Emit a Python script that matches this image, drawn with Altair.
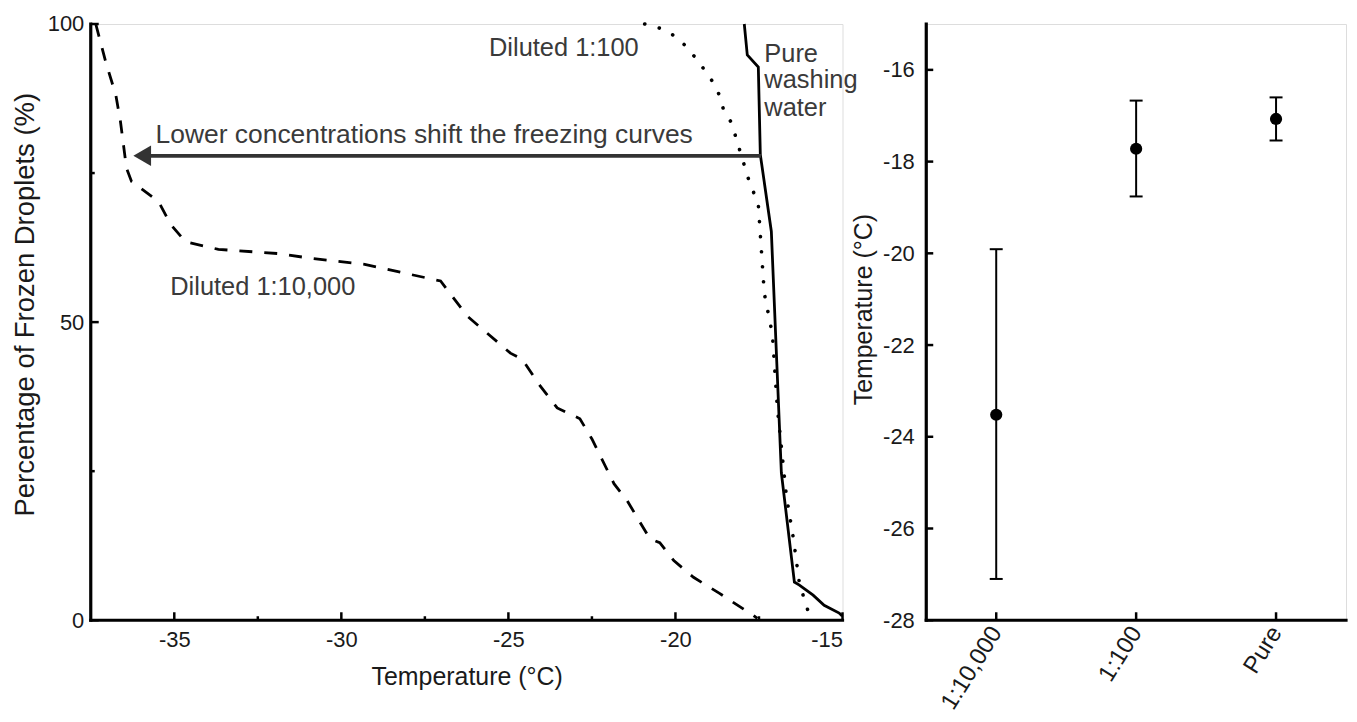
import altair as alt
import pandas as pd

FONT = "Liberation Sans"

# ---------------- Left panel: freezing curves ----------------
dil10000_temp = [-37.35, -37.05, -36.75, -36.61, -36.43, -36.28, -35.47, -35.11, -34.67,
                 -33.68, -31.89, -30.91, -29.30, -27.93, -27.03, -26.23, -24.94, -24.59,
                 -24.05, -23.54, -22.86, -22.50, -21.84, -21.45, -20.77, -20.47, -20.05,
                 -19.46, -18.68, -17.67, -17.55]
dil10000_pct = [100, 93.6, 88.1, 83.6, 75.8, 73.6, 70.2, 66.4, 63.5,
                62.2, 61.5, 60.7, 59.7, 58.0, 56.9, 51.0, 44.8, 43.8,
                39.3, 35.6, 33.8, 30.4, 22.9, 20.1, 13.7, 13.0, 10.0,
                7.2, 4.5, 0.8, 0.3]

dil100_temp = [-20.92, -20.47, -20.02, -19.67, -19.37, -19.13, -18.86, -18.68, -18.56,
               -18.32, -18.08, -17.82, -17.52, -17.43, -17.34, -17.10, -16.95, -16.68,
               -16.47, -16.29, -16.03]
dil100_pct = [100, 99.3, 98.0, 96.2, 94.1, 92.3, 90.1, 88.0, 85.6,
              83.4, 78.9, 74.1, 69.7, 62.2, 54.8, 48.0, 35.6, 20.9,
              13.7, 6.2, 1.5]

pure_temp = [-17.94, -17.85, -17.52, -17.46, -17.13, -16.83, -16.44, -16.29,
             -15.88, -15.55, -15.10, -15.01]
pure_pct = [100, 94.8, 92.8, 78.1, 65.2, 24.7, 6.4, 5.9,
            4.2, 2.5, 1.2, 0.7]

left_x_major = [-35, -30, -25, -20, -15]
left_x_minor = [-32.5, -27.5, -22.5, -17.5]
left_y_major = [0, 50, 100]
left_y_minor = [25, 75]

ann_text = ["Diluted 1:100", "Diluted 1:10,000", "Pure", "washing", "water"]
ann_temp = [-25.58, -35.12, -17.34, -17.34, -17.34]
ann_pct = [94.6, 54.5, 93.6, 89.2, 84.5]

arrow_label = ["Lower concentrations shift the freezing curves"]
arrow_label_temp = [-35.56]
arrow_label_pct = [80.1]
arrow_from = [-17.44]
arrow_to = [-35.96]
arrow_pct = [77.9]

# ---------------- Right panel: mean freezing temperature ----------------
cats = ["1:10,000", "1:100", "Pure"]
mean_t = [-23.52, -17.72, -17.07]
upper_t = [-19.91, -16.67, -16.60]
lower_t = [-27.10, -18.76, -17.54]
right_y_ticks = [-16, -18, -20, -22, -24, -26, -28]

W1, H = 754, 598
W2 = 421

xs = alt.Scale(domain=[-37.5, -15], nice=False, zero=False)
ys = alt.Scale(domain=[0, 100], nice=False, zero=False)

HYPHEN = "replace(datum.label, '\u2212', '-')"

x_axis = alt.Axis(values=left_x_major, labelExpr=HYPHEN, labelPadding=9,
                  title="Temperature (°C)", titleFontSize=25, titlePadding=14)
y_axis = alt.Axis(values=left_y_major, labelPadding=7,
                  title="Percentage of Frozen Droplets (%)", titleFontSize=27.5,
                  titlePadding=8, titleY=281)


def X(field):
    return alt.X(field, scale=xs, axis=x_axis)


def Y(field):
    return alt.Y(field, scale=ys, axis=y_axis)


def curve_df(t, p):
    return pd.DataFrame({"temp": t, "pct": p, "i": list(range(len(t)))})


def frame(width):
    """Axis lines (L-shaped frame) drawn as rules."""
    d = pd.DataFrame({"k": [0]})
    yline = alt.Chart(d).mark_rule(color="black", strokeWidth=3.2, strokeCap="square").encode(
        x=alt.value(0), y=alt.value(0), y2=alt.value(H))
    xline = alt.Chart(d).mark_rule(color="black", strokeWidth=3.2, strokeCap="square").encode(
        y=alt.value(H), x=alt.value(0), x2=alt.value(width))
    return yline, xline


dashed = alt.Chart(curve_df(dil10000_temp, dil10000_pct)).mark_line(
    color="black", strokeWidth=2.8, strokeDash=[13, 12]
).encode(x=X("temp:Q"), y=Y("pct:Q"), order="i:Q")

dotted = alt.Chart(curve_df(dil100_temp, dil100_pct)).mark_line(
    color="black", strokeWidth=3.6, strokeDash=[0.1, 15], strokeCap="round"
).encode(x=X("temp:Q"), y=Y("pct:Q"), order="i:Q")

solid = alt.Chart(curve_df(pure_temp, pure_pct)).mark_line(
    color="black", strokeWidth=2.8
).encode(x=X("temp:Q"), y=Y("pct:Q"), order="i:Q")

xt_major = alt.Chart(pd.DataFrame({"v": left_x_major})).mark_rule(color="black", strokeWidth=2.5).encode(
    x=X("v:Q"), y=alt.value(H), y2=alt.value(H - 8))
xt_minor = alt.Chart(pd.DataFrame({"v": left_x_minor})).mark_rule(color="black", strokeWidth=2.5).encode(
    x=X("v:Q"), y=alt.value(H), y2=alt.value(H - 4))
yt_major = alt.Chart(pd.DataFrame({"v": left_y_major})).mark_rule(color="black", strokeWidth=2.5).encode(
    y=Y("v:Q"), x=alt.value(0), x2=alt.value(8))
yt_minor = alt.Chart(pd.DataFrame({"v": left_y_minor})).mark_rule(color="black", strokeWidth=2.5).encode(
    y=Y("v:Q"), x=alt.value(0), x2=alt.value(4))

arrow_df = pd.DataFrame({"a": arrow_from, "b": arrow_to, "p": arrow_pct})
arrow_line = alt.Chart(arrow_df).mark_rule(color="#333333", strokeWidth=3.8).encode(
    x=X("a:Q"), x2="b:Q", y=Y("p:Q"))
arrow_head = alt.Chart(arrow_df).mark_point(
    shape="triangle-left", filled=True, color="#333333", opacity=1, size=420
).encode(x=X("b:Q"), y=Y("p:Q"))

arrow_text = alt.Chart(pd.DataFrame({"t": arrow_label, "x": arrow_label_temp, "y": arrow_label_pct})).mark_text(
    align="left", baseline="alphabetic", font=FONT, fontSize=26.5, color="#3a3a3a"
).encode(x=X("x:Q"), y=Y("y:Q"), text="t:N")

ann = alt.Chart(pd.DataFrame({"t": ann_text, "x": ann_temp, "y": ann_pct})).mark_text(
    align="left", baseline="alphabetic", font=FONT, fontSize=25.5, color="#3a3a3a"
).encode(x=X("x:Q"), y=Y("y:Q"), text="t:N")

l_yline, l_xline = frame(W1)
left = alt.layer(dashed, dotted, solid, xt_major, xt_minor, yt_major, yt_minor,
                 arrow_line, arrow_head, arrow_text, ann, l_yline, l_xline
                 ).properties(width=W1, height=H)

# ---------------- Right panel ----------------
rdf = pd.DataFrame({"cat": cats, "mean": mean_t, "up": upper_t, "lo": lower_t})
rys = alt.Scale(domain=[-28, -15], nice=False, zero=False)
rxs = alt.Scale(type="point", padding=0.5)

rx_axis = alt.Axis(labelFontSize=24, labelAngle=-58, labelAlign="right",
                   labelBaseline="middle", labelPadding=8, title=None)
ry_axis = alt.Axis(values=right_y_ticks, labelPadding=12, labelExpr=HYPHEN,
                   title="Temperature (°C)", titleFontSize=25, titlePadding=6,
                   titleY=286)


def RX():
    return alt.X("cat:N", sort=cats, scale=rxs, axis=rx_axis)


def RY(field):
    return alt.Y(field, scale=rys, axis=ry_axis)


err = alt.Chart(rdf).mark_rule(color="black", strokeWidth=2).encode(
    x=RX(), y=RY("lo:Q"), y2="up:Q")
cap_up = alt.Chart(rdf).mark_tick(color="black", thickness=2, size=13, opacity=1).encode(
    x=RX(), y=RY("up:Q"))
cap_lo = alt.Chart(rdf).mark_tick(color="black", thickness=2, size=13, opacity=1).encode(
    x=RX(), y=RY("lo:Q"))
pts = alt.Chart(rdf).mark_point(filled=True, color="black", opacity=1, size=150, shape="circle").encode(
    x=RX(), y=RY("mean:Q"))
rxt = alt.Chart(rdf).mark_rule(color="black", strokeWidth=2.5).encode(
    x=RX(), y=alt.value(H), y2=alt.value(H - 8))
ryt = alt.Chart(pd.DataFrame({"v": right_y_ticks})).mark_rule(color="black", strokeWidth=2.5).encode(
    y=RY("v:Q"), x=alt.value(0), x2=alt.value(7))

r_yline, r_xline = frame(W2)
right = alt.layer(err, cap_up, cap_lo, pts, rxt, ryt, r_yline, r_xline
                  ).properties(width=W2, height=H)

chart = alt.hconcat(left, right, spacing=84, bounds="flush").properties(
    padding={"left": 2, "top": 3, "right": 0, "bottom": 0}
).configure_view(
    stroke="transparent", strokeWidth=0
).configure(
    font=FONT
).configure_axis(
    ticks=False, tickSize=0, domain=False,
    labelFont=FONT, labelFontSize=22, labelColor="#1a1a1a", grid=False,
    titleFont=FONT, titleFontWeight="normal", titleColor="#1a1a1a"
)

chart.save("out.html", embed_options={"renderer": "svg", "actions": False})
